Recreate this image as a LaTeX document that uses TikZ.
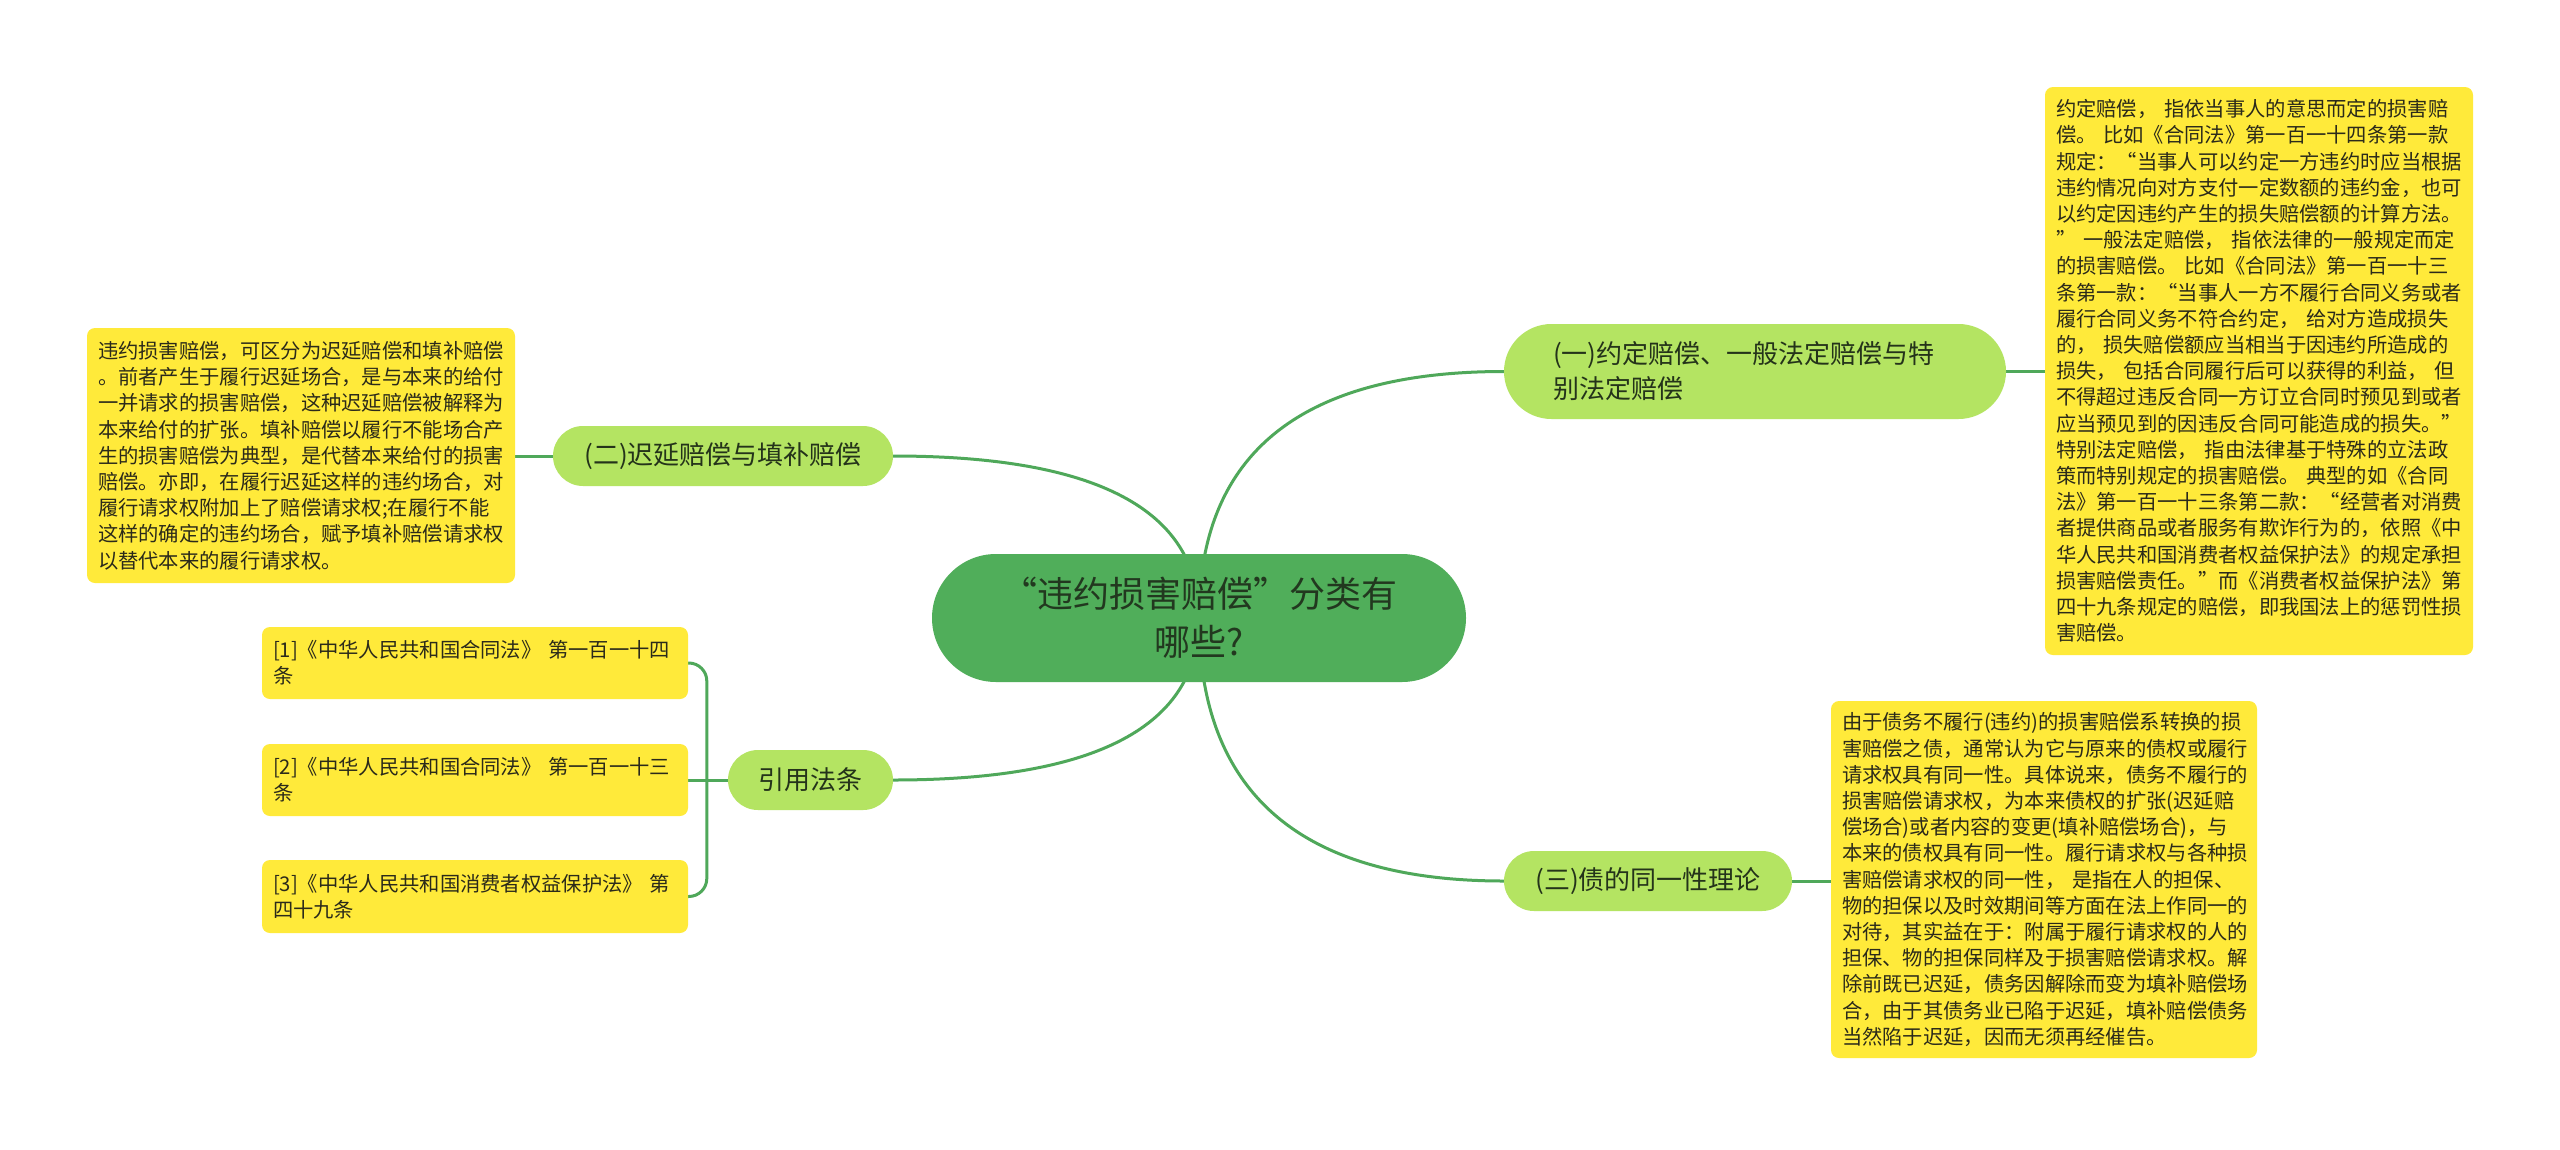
\documentclass[tikz,border=0pt]{standalone}
\usepackage{fontspec}
\setmainfont{Noto Sans CJK SC}
\usetikzlibrary{calc}
\definecolor{rootfill}{HTML}{50AE5A}
\definecolor{subfill}{HTML}{B4E462}
\definecolor{notefill}{HTML}{FFEA3A}
\definecolor{linkc}{HTML}{4FA85A}
\definecolor{roottext}{HTML}{22381F}
\definecolor{subtext}{HTML}{24331A}
\definecolor{notetext}{HTML}{2B2A1A}
\pgfdeclarelayer{bg}
\pgfsetlayers{bg,main}
\begin{document}
\begin{tikzpicture}[x=1pt,y=-1pt,
  rootbox/.style={fill=rootfill, rounded corners=64pt, minimum width=534pt, minimum height=128pt,
    inner sep=0pt, align=center, font=\fontsize{36}{48}\selectfont, text=roottext},
  subbox/.style={fill=subfill, inner sep=0pt, minimum height=60pt, rounded corners=30pt,
    align=center, font=\fontsize{26}{35}\selectfont, text=subtext},
  notebox/.style={fill=notefill, rounded corners=8pt, inner xsep=11pt, inner ysep=0pt,
    align=left, font=\fontsize{20.3}{26.2}\selectfont, text=notetext},
  link/.style={draw=linkc, line width=3pt}
]
\useasboundingbox (0,0) rectangle (2560,1149);

% root
\node[rootbox] (root) at (1199,618) {“违约损害赔偿”分类有\\哪些?};

% branches
\node[subbox, minimum width=502pt, minimum height=95pt, rounded corners=47.5pt,
      text width=404pt, align=left] (b1) at (1755,371.5) {(一)约定赔偿、一般法定赔偿与特\\别法定赔偿};
\node[subbox, minimum width=340pt] (b2) at (723,456) {(二)迟延赔偿与填补赔偿};
\node[subbox, minimum width=165pt] (cite) at (810.5,780) {引用法条};
\node[subbox, minimum width=288pt] (b3) at (1648,881) {(三)债的同一性理论};

% notes
\node[notebox, text width=406pt, minimum height=568pt] (t1) at (2259,371) {%
约定赔偿，~指依当事人的意思而定的损害赔\\
偿。~比如《合同法》第一百一十四条第一款\\
规定：“当事人可以约定一方违约时应当根据\\
违约情况向对方支付一定数额的违约金，也可\\
以约定因违约产生的损失赔偿额的计算方法。\\
”~一般法定赔偿，~指依法律的一般规定而定\\
的损害赔偿。~比如《合同法》第一百一十三\\
条第一款：“当事人一方不履行合同义务或者\\
履行合同义务不符合约定，~给对方造成损失\\
的，~损失赔偿额应当相当于因违约所造成的\\
损失，~包括合同履行后可以获得的利益，~但\\
不得超过违反合同一方订立合同时预见到或者\\
应当预见到的因违反合同可能造成的损失。”\\
特别法定赔偿，~指由法律基于特殊的立法政\\
策而特别规定的损害赔偿。~典型的如《合同\\
法》第一百一十三条第二款：“经营者对消费\\
者提供商品或者服务有欺诈行为的，依照《中\\
华人民共和国消费者权益保护法》的规定承担\\
损害赔偿责任。”而《消费者权益保护法》第\\
四十九条规定的赔偿，即我国法上的惩罚性损\\
害赔偿。};

\node[notebox, text width=406pt, minimum height=255pt] (t2) at (301,455.5) {%
违约损害赔偿，可区分为迟延赔偿和填补赔偿\\
。前者产生于履行迟延场合，是与本来的给付\\
一并请求的损害赔偿，这种迟延赔偿被解释为\\
本来给付的扩张。填补赔偿以履行不能场合产\\
生的损害赔偿为典型，是代替本来给付的损害\\
赔偿。亦即，在履行迟延这样的违约场合，对\\
履行请求权附加上了赔偿请求权;在履行不能\\
这样的确定的违约场合，赋予填补赔偿请求权\\
以替代本来的履行请求权。};

\node[notebox, text width=404pt, minimum height=357pt] (t3) at (2044,879.5) {%
由于债务不履行(违约)的损害赔偿系转换的损\\
害赔偿之债，通常认为它与原来的债权或履行\\
请求权具有同一性。具体说来，债务不履行的\\
损害赔偿请求权，为本来债权的扩张(迟延赔\\
偿场合)或者内容的变更(填补赔偿场合)，与\\
本来的债权具有同一性。履行请求权与各种损\\
害赔偿请求权的同一性，~是指在人的担保、\\
物的担保以及时效期间等方面在法上作同一的\\
对待，其实益在于：附属于履行请求权的人的\\
担保、物的担保同样及于损害赔偿请求权。解\\
除前既已迟延，债务因解除而变为填补赔偿场\\
合，由于其债务业已陷于迟延，填补赔偿债务\\
当然陷于迟延，因而无须再经催告。};

% references
\node[notebox, text width=404pt, minimum height=72pt] (r1) at (475,663) {[1]《中华人民共和国合同法》~第一百一十四\\条};
\node[notebox, text width=404pt, minimum height=72pt] (r2) at (475,780) {[2]《中华人民共和国合同法》~第一百一十三\\条};
\node[notebox, text width=404pt, minimum height=73pt] (r3) at (475,896.5) {[3]《中华人民共和国消费者权益保护法》~第\\四十九条};

% connectors
\coordinate (k1) at (root.center |- b1.west);
\coordinate (k2) at (root.center |- b2.east);
\coordinate (k3) at (root.center |- cite.east);
\coordinate (k4) at (root.center |- b3.west);
\coordinate (cj) at ($(cite.west)+(-21,0)$);
\begin{pgfonlayer}{bg}
\fill[white] (0,0) rectangle (2560,1149);
\draw[link] (root.center) .. controls ($(root.center)!0.6667!(k1)$) and ($(b1.west)!0.6667!(k1)$) .. (b1.west);
\draw[link] (root.center) .. controls ($(root.center)!0.6667!(k2)$) and ($(b2.east)!0.6667!(k2)$) .. (b2.east);
\draw[link] (root.center) .. controls ($(root.center)!0.6667!(k3)$) and ($(cite.east)!0.6667!(k3)$) .. (cite.east);
\draw[link] (root.center) .. controls ($(root.center)!0.6667!(k4)$) and ($(b3.west)!0.6667!(k4)$) .. (b3.west);
\draw[link] (b1.east) -- (b1.east -| t1.west);
\draw[link] (b2.west) -- (b2.west -| t2.east);
\draw[link] (b3.east) -- (b3.east -| t3.west);
\draw[link] (cite.west) -- (r2.east);
\draw[link, rounded corners=18pt] (r1.east) -| (cj) |- (r3.east);
\end{pgfonlayer}
\end{tikzpicture}
\end{document}
